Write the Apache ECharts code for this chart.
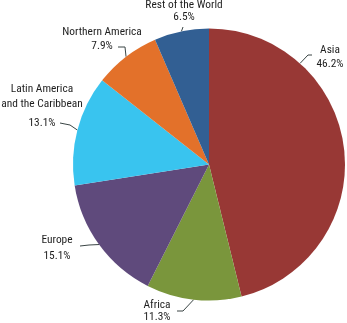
<!DOCTYPE html>
<html><head><meta charset="utf-8">
<script src="https://cdn.jsdelivr.net/npm/echarts@6/dist/echarts.min.js"></script>
<style>html,body{margin:0;padding:0;background:#fff}#c{width:347px;height:323px}</style>
</head><body><div id="c"></div>
<script>
// Data
const categories = ['Asia', 'Africa', 'Europe', 'Latin America\nand the Caribbean', 'Northern America', 'Rest of the World'];
const shares = [46.2, 11.3, 15.1, 13.1, 7.9, 6.5];

// Styles / layout (not data)
const colors = ['#983835', '#7a963c', '#5f4a7c', '#39c4ef', '#e3712a', '#325f93'];
const CX = 209, CY = 164.5, R = 136;
// label block centre, line heights, leader bend/end points
const labelSpots = [
  {x: 330, y: 57,  lh: [14, 14], line: [[308, 55], [312, 55]], anchorDeg: 42},
  {x: 157, y: 311, lh: [12, 12], line: [[183, 311], [177, 311]]},
  {x: 57,  y: 248, lh: [16, 16], line: [[89, 245], [80, 246]]},
  {x: 42,  y: 108, lh: [15, 23], line: [[70, 125], [60, 123]]},
  {x: 102, y: 39,  lh: [14, 14], line: [[125, 47], [118, 47]]},
  {x: 184, y: 11,  lh: [12, 12], line: [[183, 27], [183, 27]]}
];

const FONT = '"Roboto Condensed", Roboto, sans-serif';
const FS = 11.4;

const data = categories.map((name, i) => ({
  name: name,
  value: shares[i],
  itemStyle: {color: colors[i]},
  label: {
    rich: {
      n: {fontFamily: FONT, fontSize: FS, color: '#1e1e1e', lineHeight: labelSpots[i].lh[0], align: 'center'},
      v: {fontFamily: FONT, fontSize: FS, color: '#1e1e1e', lineHeight: labelSpots[i].lh[1], align: 'center'}
    }
  }
}));

const chart = echarts.init(document.getElementById('c'), null, {renderer: 'canvas'});
chart.setOption({
  animation: false,
  backgroundColor: '#fff',
  series: [{
    type: 'pie',
    center: [CX, CY],
    radius: R,
    startAngle: 90,
    clockwise: true,
    avoidLabelOverlap: false,
    itemStyle: {borderWidth: 0},
    label: {
      show: true,
      position: 'outside',
      formatter: p => p.name.split('\n').map(s => '{n|' + s + '}').join('\n') + '\n{v|' + p.value.toFixed(1) + '%}',
      align: 'center'
    },
    labelLine: {show: true, length: 8, length2: 6, smooth: false, lineStyle: {color: '#3a4545', width: 1}},
    labelLayout: function (params) {
      const s = labelSpots[params.dataIndex];
      let anchor;
      if (s.anchorDeg !== undefined) {
        const a = s.anchorDeg * Math.PI / 180;
        anchor = [CX + R * Math.sin(a), CY - R * Math.cos(a)];
      } else {
        anchor = params.labelLinePoints ? params.labelLinePoints[0] : s.line[0];
      }
      return {
        x: s.x, y: s.y, align: 'center', verticalAlign: 'middle',
        labelLinePoints: [anchor, s.line[0], s.line[1]]
      };
    },
    data: data
  }]
});
</script></body></html>
